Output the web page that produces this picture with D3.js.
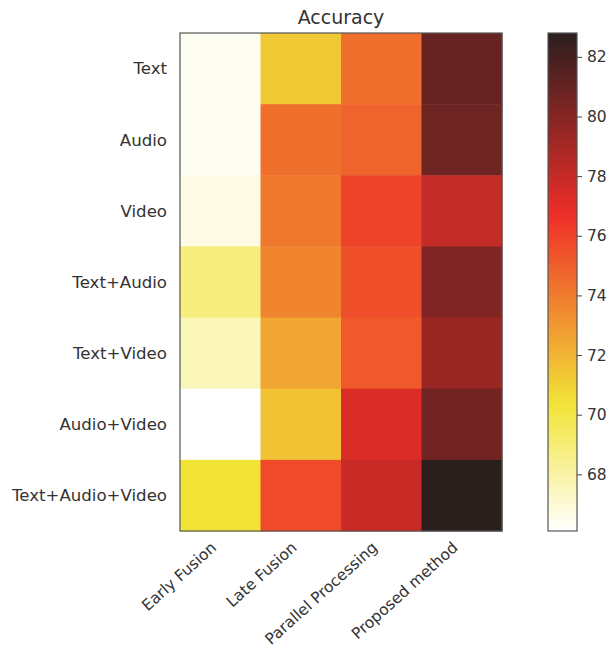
<!DOCTYPE html>
<html>
<head>
<meta charset="utf-8">
<script src="https://cdn.jsdelivr.net/npm/d3@7"></script>
<style>
  html, body { margin: 0; padding: 0; background: #fff; }
  svg { display: block; font-family: "DejaVu Sans", sans-serif; }
</style>
</head>
<body>
<svg id="chart" width="609" height="648"></svg>
<script>
// Row and column categories
const modalities = ["Text", "Audio", "Video", "Text+Audio", "Text+Video", "Audio+Video", "Text+Audio+Video"];
const methods = ["Early Fusion", "Late Fusion", "Parallel Processing", "Proposed method"];

// Accuracy per modality, one array per fusion method
const earlyFusion        = [66.4, 66.35, 66.7, 68.85, 67.6, 66.1, 70.35];
const lateFusion         = [71.3, 74.4, 74.1, 73.7, 72.55, 71.5, 75.7];
const parallelProcessing = [74.4, 74.8, 76.0, 75.5, 75.2, 77.3, 77.9];
const proposedMethod     = [80.95, 80.7, 78.05, 80.15, 79.4, 80.6, 82.8];

const colorbarTicks = [68, 70, 72, 74, 76, 78, 80, 82];

const seriesByMethod = [earlyFusion, lateFusion, parallelProcessing, proposedMethod];
const cells = [];
modalities.forEach((m, i) => {
  methods.forEach((k, j) => cells.push({ row: m, col: k, value: seriesByMethod[j][i] }));
});

// Reversed "hot" colormap with a soft, slightly muted palette
function hotR(t) {
  const s = 1 - Math.max(0, Math.min(1, t));
  const clip = v => Math.max(0, Math.min(1, v));
  const r = 255 * clip(0.0416 + s * (1 - 0.0416) / 0.365079);
  const g = 255 * clip((s - 0.365079) / (0.746032 - 0.365079));
  const b = 255 * clip((s - 0.746032) / (1 - 0.746032));
  const R = 35 + 0.796 * r + 0.0157 * g + 0.051 * b;
  const G = 30 + 0.0627 * r + 0.714 * g + 0.106 * b;
  const B = 30 + 0.0392 * r + 0.0588 * g + 0.784 * b;
  const q = v => Math.round(Math.max(0, Math.min(255, v)));
  return `rgb(${q(R)},${q(G)},${q(B)})`;
}

const allValues = seriesByMethod.flat();
const vmin = d3.min(allValues), vmax = d3.max(allValues);
const color = d3.scaleSequential(hotR).domain([vmin, vmax]);

const svg = d3.select("#chart");
const plot = { left: 180, top: 33, right: 502, bottom: 531 };
const cbar = { left: 548, right: 577 };
const textColor = "#333";

const x = d3.scaleBand().domain(methods).range([plot.left, plot.right]);
const y = d3.scaleBand().domain(modalities).range([plot.top, plot.bottom]);

// Heatmap cells
svg.append("g")
  .selectAll("rect")
  .data(cells)
  .join("rect")
  .attr("x", d => x(d.col))
  .attr("y", d => y(d.row))
  .attr("width", x.bandwidth() + 0.5)
  .attr("height", y.bandwidth() + 0.5)
  .attr("fill", d => color(d.value));

svg.append("rect")
  .attr("x", plot.left).attr("y", plot.top)
  .attr("width", plot.right - plot.left).attr("height", plot.bottom - plot.top)
  .attr("fill", "none").attr("stroke", "#555").attr("stroke-width", 1.2);

// Row labels
svg.append("g")
  .selectAll("text")
  .data(modalities)
  .join("text")
  .attr("x", plot.left - 13)
  .attr("y", d => y(d) + y.bandwidth() / 2)
  .attr("dy", "0.35em")
  .attr("text-anchor", "end")
  .attr("font-size", 16.6)
  .attr("fill", textColor)
  .text(d => d);

// Column labels, rotated
svg.append("g")
  .selectAll("text")
  .data(methods)
  .join("text")
  .attr("transform", d => `translate(${x(d) + x.bandwidth() / 2 - 3},${plot.bottom + 18}) rotate(-42)`)
  .attr("text-anchor", "end")
  .attr("font-size", 15.5)
  .attr("fill", textColor)
  .text(d => d);

// Title
svg.append("text")
  .attr("x", (plot.left + plot.right) / 2)
  .attr("y", 24)
  .attr("text-anchor", "middle")
  .attr("font-size", 19)
  .attr("fill", textColor)
  .text("Accuracy");

// Colorbar
const cy = d3.scaleLinear().domain([vmin, vmax]).range([plot.bottom, plot.top]);
const defs = svg.append("defs");
const grad = defs.append("linearGradient")
  .attr("id", "cbar-grad")
  .attr("x1", 0).attr("y1", 1).attr("x2", 0).attr("y2", 0);
d3.range(0, 1.0001, 0.02).forEach(t => {
  grad.append("stop")
    .attr("offset", t)
    .attr("stop-color", color(vmin + t * (vmax - vmin)));
});
svg.append("rect")
  .attr("x", cbar.left).attr("y", plot.top)
  .attr("width", cbar.right - cbar.left).attr("height", plot.bottom - plot.top)
  .attr("fill", "url(#cbar-grad)")
  .attr("stroke", "#555").attr("stroke-width", 1.2);

const cAxis = d3.axisRight(cy).tickValues(colorbarTicks).tickSize(5).tickPadding(5);
const cg = svg.append("g")
  .attr("transform", `translate(${cbar.right},0)`)
  .call(cAxis);
cg.select(".domain").remove();
cg.selectAll(".tick line").attr("stroke", "#444");
cg.selectAll(".tick text")
  .attr("font-size", 15.5)
  .attr("font-family", "DejaVu Sans, sans-serif")
  .attr("fill", textColor);
</script>
</body>
</html>
